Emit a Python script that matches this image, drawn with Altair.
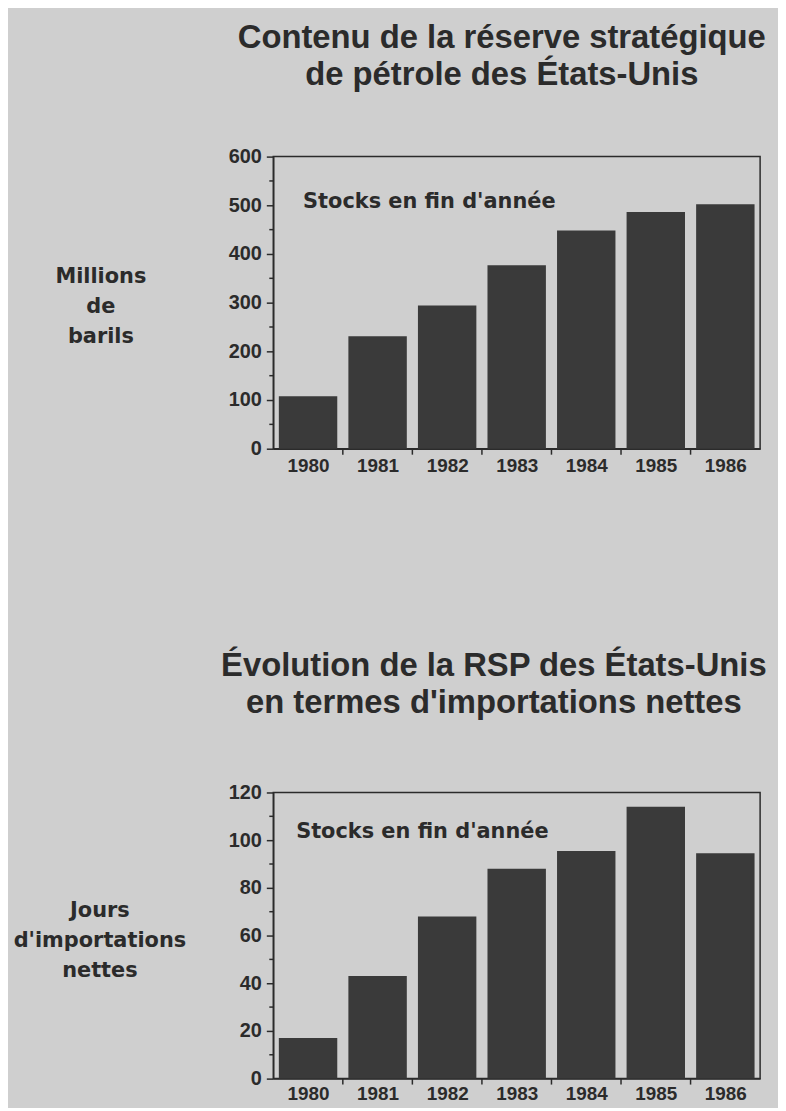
import altair as alt
import pandas as pd

years = [1980, 1981, 1982, 1983, 1984, 1985, 1986]
stocks_mb = [108, 231, 294, 377, 448, 486, 502]
import_days = [17, 43, 68, 88, 95.5, 114, 94.5]

y1_ticks = [0, 100, 200, 300, 400, 500, 600]
y1_minor = [50, 150, 250, 350, 450, 550]
y2_ticks = [0, 20, 40, 60, 80, 100, 120]
y2_minor = [10, 30, 50, 70, 90, 110]

title1 = ["Contenu de la réserve stratégique", "de pétrole des États-Unis"]
title2 = ["Évolution de la RSP des États-Unis", "en termes d'importations nettes"]
ytitle1 = ["Millions", "de", "barils"]
ytitle2 = ["Jours", "d'importations", "nettes"]
annotation = "Stocks en fin d'année"

BG = "#cfcfcf"
INK = "#2b2b2b"
BAR = "#3a3a3a"
LBL_FONT = "DejaVu Sans"
NUM_FONT = "Liberation Sans"
TITLE_FONT = "Liberation Sans"

boundaries = [y + 0.5 for y in years[:-1]]


def panel(values, ymax, yticks, yminor, height, ytitle, tx, ty, title, tdx, ax, ay, xpad, toff):
    width = 490
    df = pd.DataFrame({"year": years, "value": values})
    xscale = alt.Scale(domain=[years[0] - 0.5, years[-1] + 0.5], nice=False, zero=False)
    yscale = alt.Scale(domain=[0, ymax], nice=False)

    xaxis = alt.Axis(
        values=years, format="d", ticks=False, grid=False, title=None,
        labelFont=NUM_FONT, labelFontSize=19, labelFontWeight="bold",
        labelColor=INK, labelPadding=xpad, domainColor=INK, domainWidth=1.5)
    yaxis = alt.Axis(
        values=yticks, grid=False, tickSize=7, tickColor=INK, tickWidth=1.5,
        domainColor=INK, domainWidth=1.5,
        labelFont=NUM_FONT, labelFontSize=20, labelFontWeight="bold",
        labelColor=INK, labelPadding=5,
        title=ytitle, titleAngle=0, titleAlign="center", titleBaseline="top",
        titleX=tx, titleY=ty, titleFont=LBL_FONT, titleFontSize=21,
        titleFontWeight="bold", titleColor=INK, titleLineHeight=30)

    bars = alt.Chart(df).transform_calculate(
        x0="datum.year - 0.42", x1="datum.year + 0.42"
    ).mark_bar(color=BAR).encode(
        x=alt.X("x0:Q", scale=xscale, axis=xaxis),
        x2="x1:Q",
        y=alt.Y("value:Q", scale=yscale, axis=yaxis),
        y2=alt.datum(0),
    )

    minor = alt.Chart(pd.DataFrame({"m": yminor})).mark_rule(
        color=INK, strokeWidth=1.5
    ).encode(
        y=alt.Y("m:Q", scale=yscale, axis=yaxis),
        x=alt.value(-4), x2=alt.value(0),
    )

    xticks = alt.Chart(pd.DataFrame({"b": boundaries})).mark_rule(
        color=INK, strokeWidth=1.5
    ).encode(
        x=alt.X("b:Q", scale=xscale, axis=xaxis),
        y=alt.value(height), y2=alt.value(height + 6),
    )

    note = alt.Chart(pd.DataFrame({"t": [annotation]})).mark_text(
        align="left", baseline="alphabetic", font=LBL_FONT, fontSize=21,
        fontWeight="bold", color=INK
    ).encode(text="t:N", x=alt.value(ax), y=alt.value(ay))

    return alt.layer(bars, minor, xticks, note).properties(
        width=width, height=height,
        title=alt.TitleParams(
            text=title, font=TITLE_FONT, fontSize=33, fontWeight="bold",
            color=INK, lineHeight=37, anchor="middle", dx=tdx, offset=toff),
    )


top = panel(stocks_mb, 600, y1_ticks, y1_minor, 294, ytitle1, -174, 110,
            title1, -15, 30, 52, 8, 55)
bottom = panel(import_days, 120, y2_ticks, y2_minor, 288, ytitle2, -175, 108,
               title2, -23, 23, 46, 6, 63)

chart = alt.vconcat(top, bottom, spacing=174).properties(
    padding={"left": 4, "top": 10, "right": 10, "bottom": 0},
    background=BG,
).configure_view(stroke=INK, strokeWidth=1.5)

chart.save("out.html", embed_options={"renderer": "svg", "actions": False})
